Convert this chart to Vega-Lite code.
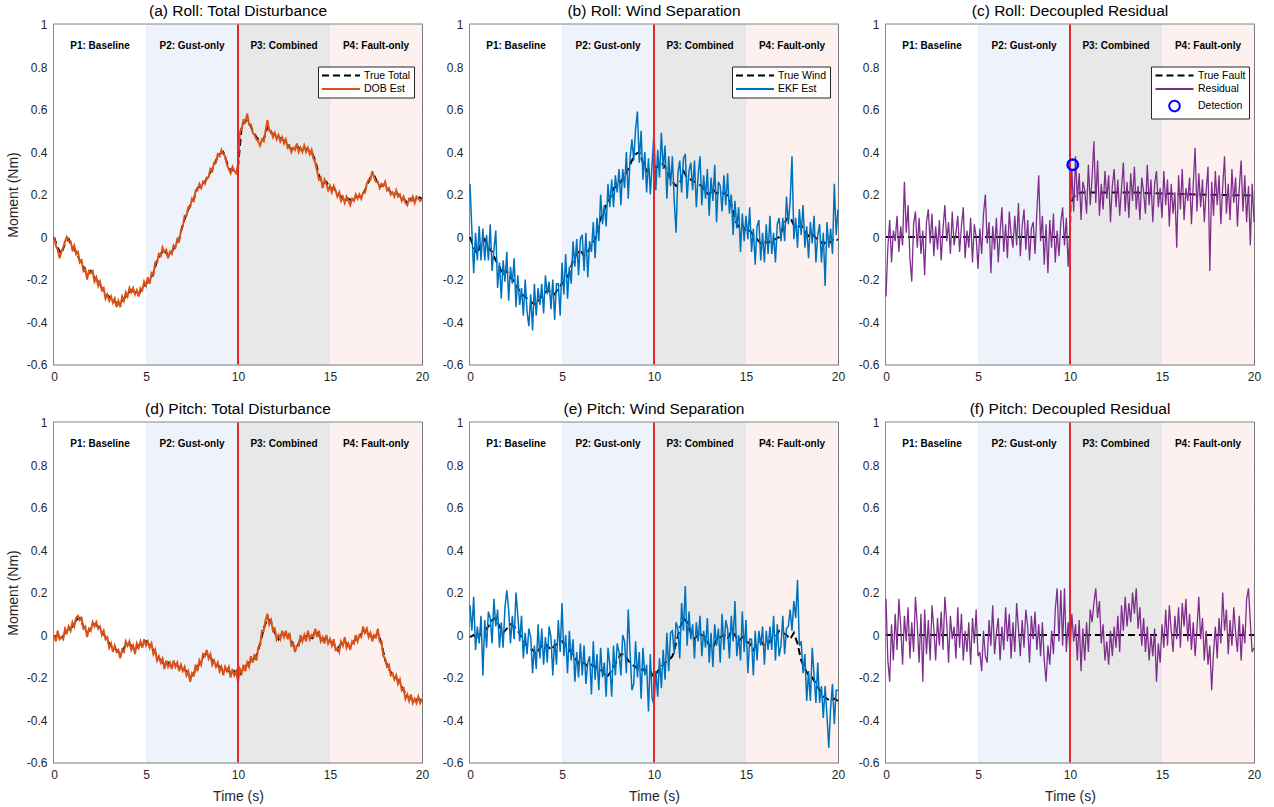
{
"$schema": "https://vega.github.io/schema/vega-lite/v6.json",
"padding": {"left": 5, "top": 2.5, "right": 5, "bottom": 2},
"background": "white",
"config": {
  "font": "Liberation Sans",
  "view": {"stroke": "#8a8a8a", "strokeWidth": 2},
  "axis": {"grid": true, "gridColor": "#000000", "gridOpacity": 0.12, "domain": false, "ticks": false, "labelFontSize": 12, "labelColor": "#262626", "titleFontSize": 14, "titleFontWeight": "normal", "titleColor": "#262626", "labelFlush": false, "labelOverlap": false, "zindex": 1},
  "title": {"fontSize": 15.5, "fontWeight": "normal", "color": "#000000", "offset": -1},
  "legend": {"labelFontSize": 10.5, "labelColor": "#000000", "strokeColor": "#262626", "fillColor": "#ffffff", "padding": 3, "rowPadding": 1.5, "symbolOffset": 14, "labelOffset": 17, "cornerRadius": 0, "symbolStrokeWidth": 2, "symbolType": "M-3.8,0H3.8", "symbolSize": 100}
},
"datasets": {
  "phases": [
    {"p": "P1", "x0": 0, "x1": 5, "mid": 2.5, "label": "P1: Baseline"},
    {"p": "P2", "x0": 5, "x1": 10, "mid": 7.5, "label": "P2: Gust-only"},
    {"p": "P3", "x0": 10, "x1": 15, "mid": 12.5, "label": "P3: Combined"},
    {"p": "P4", "x0": 15, "x1": 20, "mid": 17.5, "label": "P4: Fault-only"}
  ],
  "ev": [{"t": 10}],
  "det": [{"t": 10.15, "v": 0.34}],
  "flt": [{"t":0,"v":0},{"t":10,"v":0},{"t":10.02,"v":0.15},{"t":10.2,"v":0.19},{"t":10.6,"v":0.21},{"t":13,"v":0.21},{"t":15,"v":0.205},{"t":17,"v":0.2},{"t":20,"v":0.195}],
  "pflt": [{"t":0,"v":0},{"t":20,"v":0}],
  "truth": [
{"t":0,"rt":0,"rw":0,"pt":-0.01},{"t":0.2,"rt":-0.05,"rw":-0.05,"pt":0},{"t":0.4,"rt":-0.08,"rw":-0.08,"pt":-0.02},{"t":0.6,"rt":-0.03,"rw":-0.03,"pt":0.01},{"t":0.8,"rt":-0.01,"rw":-0.01,"pt":0.02},
{"t":1,"rt":-0.05,"rw":-0.05,"pt":0.04},{"t":1.2,"rt":-0.07,"rw":-0.07,"pt":0.07},{"t":1.4,"rt":-0.11,"rw":-0.11,"pt":0.08},{"t":1.6,"rt":-0.14,"rw":-0.14,"pt":0.04},{"t":1.8,"rt":-0.18,"rw":-0.18,"pt":0.01},
{"t":2,"rt":-0.16,"rw":-0.16,"pt":0.03},{"t":2.2,"rt":-0.19,"rw":-0.19,"pt":0.05},{"t":2.4,"rt":-0.21,"rw":-0.21,"pt":0.04},{"t":2.6,"rt":-0.24,"rw":-0.24,"pt":0.02},{"t":2.8,"rt":-0.27,"rw":-0.27,"pt":-0.01},
{"t":3,"rt":-0.28,"rw":-0.28,"pt":-0.04},{"t":3.2,"rt":-0.3,"rw":-0.3,"pt":-0.06},{"t":3.4,"rt":-0.31,"rw":-0.31,"pt":-0.07},{"t":3.6,"rt":-0.32,"rw":-0.32,"pt":-0.09},{"t":3.8,"rt":-0.29,"rw":-0.29,"pt":-0.06},
{"t":4,"rt":-0.27,"rw":-0.27,"pt":-0.04},{"t":4.2,"rt":-0.25,"rw":-0.25,"pt":-0.05},{"t":4.4,"rt":-0.26,"rw":-0.26,"pt":-0.07},{"t":4.6,"rt":-0.27,"rw":-0.27,"pt":-0.05},{"t":4.8,"rt":-0.24,"rw":-0.24,"pt":-0.04},
{"t":5,"rt":-0.22,"rw":-0.22,"pt":-0.03},{"t":5.2,"rt":-0.2,"rw":-0.2,"pt":-0.05},{"t":5.4,"rt":-0.17,"rw":-0.17,"pt":-0.07},{"t":5.6,"rt":-0.11,"rw":-0.11,"pt":-0.1},{"t":5.8,"rt":-0.08,"rw":-0.08,"pt":-0.12},
{"t":6,"rt":-0.06,"rw":-0.06,"pt":-0.14},{"t":6.2,"rt":-0.09,"rw":-0.09,"pt":-0.13},{"t":6.4,"rt":-0.07,"rw":-0.07,"pt":-0.15},{"t":6.6,"rt":-0.04,"rw":-0.04,"pt":-0.14},{"t":6.8,"rt":-0.01,"rw":-0.01,"pt":-0.15},
{"t":7,"rt":0.06,"rw":0.06,"pt":-0.16},{"t":7.2,"rt":0.11,"rw":0.11,"pt":-0.17},{"t":7.4,"rt":0.15,"rw":0.15,"pt":-0.2},{"t":7.6,"rt":0.18,"rw":0.18,"pt":-0.18},{"t":7.8,"rt":0.23,"rw":0.23,"pt":-0.15},
{"t":8,"rt":0.24,"rw":0.24,"pt":-0.12},{"t":8.2,"rt":0.26,"rw":0.26,"pt":-0.09},{"t":8.4,"rt":0.29,"rw":0.29,"pt":-0.09},{"t":8.6,"rt":0.32,"rw":0.32,"pt":-0.12},{"t":8.8,"rt":0.36,"rw":0.36,"pt":-0.14},
{"t":9,"rt":0.39,"rw":0.39,"pt":-0.15},{"t":9.2,"rt":0.4,"rw":0.4,"pt":-0.17},{"t":9.4,"rt":0.35,"rw":0.35,"pt":-0.16},{"t":9.6,"rt":0.31,"rw":0.31,"pt":-0.18},{"t":9.8,"rt":0.32,"rw":0.32,"pt":-0.17},
{"t":10,"rt":0.33,"rw":0.33,"pt":-0.2},{"t":10.2,"rt":0.52,"rw":0.33,"pt":-0.17},{"t":10.4,"rt":0.55,"rw":0.35,"pt":-0.15},{"t":10.6,"rt":0.54,"rw":0.33,"pt":-0.13},{"t":10.8,"rt":0.5,"rw":0.29,"pt":-0.12},
{"t":11,"rt":0.47,"rw":0.26,"pt":-0.1},{"t":11.2,"rt":0.45,"rw":0.24,"pt":-0.04},{"t":11.4,"rt":0.46,"rw":0.25,"pt":0.03},{"t":11.6,"rt":0.52,"rw":0.31,"pt":0.08},{"t":11.8,"rt":0.49,"rw":0.28,"pt":0.06},
{"t":12,"rt":0.48,"rw":0.27,"pt":0.01},{"t":12.2,"rt":0.47,"rw":0.26,"pt":-0.02},{"t":12.4,"rt":0.46,"rw":0.25,"pt":0.01},{"t":12.6,"rt":0.45,"rw":0.24,"pt":0},{"t":12.8,"rt":0.42,"rw":0.21,"pt":-0.01},
{"t":13,"rt":0.41,"rw":0.2,"pt":-0.05},{"t":13.2,"rt":0.43,"rw":0.225,"pt":-0.06},{"t":13.4,"rt":0.41,"rw":0.205,"pt":-0.02},{"t":13.6,"rt":0.42,"rw":0.215,"pt":-0.01},{"t":13.8,"rt":0.41,"rw":0.205,"pt":0},
{"t":14,"rt":0.4,"rw":0.195,"pt":-0.02},{"t":14.2,"rt":0.36,"rw":0.155,"pt":0.02},{"t":14.4,"rt":0.29,"rw":0.085,"pt":0},{"t":14.6,"rt":0.25,"rw":0.045,"pt":-0.03},{"t":14.8,"rt":0.26,"rw":0.055,"pt":-0.01},
{"t":15,"rt":0.23,"rw":0.025,"pt":-0.03},{"t":15.2,"rt":0.23,"rw":0.03,"pt":-0.04},{"t":15.4,"rt":0.21,"rw":0.01,"pt":-0.07},{"t":15.6,"rt":0.19,"rw":-0.01,"pt":-0.04},{"t":15.8,"rt":0.17,"rw":-0.03,"pt":-0.03},
{"t":16,"rt":0.18,"rw":-0.02,"pt":-0.05},{"t":16.2,"rt":0.17,"rw":-0.03,"pt":-0.04},{"t":16.4,"rt":0.19,"rw":-0.01,"pt":-0.02},{"t":16.6,"rt":0.19,"rw":-0.01,"pt":-0.01},{"t":16.8,"rt":0.2,"rw":0,"pt":0.02},
{"t":17,"rt":0.24,"rw":0.04,"pt":0.01},{"t":17.2,"rt":0.28,"rw":0.085,"pt":0},{"t":17.4,"rt":0.29,"rw":0.095,"pt":-0.02},{"t":17.6,"rt":0.25,"rw":0.055,"pt":0.01},{"t":17.8,"rt":0.24,"rw":0.045,"pt":-0.04},
{"t":18,"rt":0.25,"rw":0.055,"pt":-0.12},{"t":18.2,"rt":0.22,"rw":0.025,"pt":-0.16},{"t":18.4,"rt":0.2,"rw":0.005,"pt":-0.19},{"t":18.6,"rt":0.21,"rw":0.015,"pt":-0.2},{"t":18.8,"rt":0.19,"rw":-0.005,"pt":-0.23},
{"t":19,"rt":0.18,"rw":-0.015,"pt":-0.26},{"t":19.2,"rt":0.16,"rw":-0.035,"pt":-0.29},{"t":19.4,"rt":0.18,"rw":-0.015,"pt":-0.3},{"t":19.6,"rt":0.17,"rw":-0.025,"pt":-0.31},{"t":19.8,"rt":0.19,"rw":-0.005,"pt":-0.3},
{"t":20,"rt":0.18,"rw":-0.015,"pt":-0.31}
  ],
  "est": [
{"t":0,"rd":0,"re":0.25,"rr":-0.28,"pd":0,"pe":0.14,"pr":0.17},
{"t":0.1,"rd":-0.04,"re":0.03,"rr":-0.05,"pd":-0.03,"pe":0.02,"pr":-0.12},
{"t":0.2,"rd":-0.06,"re":-0.17,"rr":0.08,"pd":0.02,"pe":0.18,"pr":-0.22},
{"t":0.3,"rd":-0.1,"re":0.02,"rr":-0.12,"pd":-0.02,"pe":-0.07,"pr":0.05},
{"t":0.4,"rd":-0.07,"re":-0.11,"rr":0.03,"pd":-0.01,"pe":0.04,"pr":-0.12},
{"t":0.5,"rd":-0.05,"re":0.05,"rr":-0.02,"pd":-0.02,"pe":-0.04,"pr":0.1},
{"t":0.6,"rd":-0.02,"re":-0.11,"rr":0.1,"pd":0.03,"pe":0.09,"pr":-0.07},
{"t":0.7,"rd":0,"re":0.04,"rr":-0.07,"pd":0.01,"pe":-0.19,"pr":0.17},
{"t":0.8,"rd":-0.02,"re":-0.11,"rr":0.05,"pd":0.04,"pe":0.07,"pr":0.04},
{"t":0.9,"rd":-0.02,"re":0.01,"rr":-0.04,"pd":0.02,"pe":-0.06,"pr":-0.14},
{"t":1,"rd":-0.06,"re":-0.11,"rr":0.26,"pd":0.06,"pe":0.11,"pr":0.09},
{"t":1.1,"rd":-0.04,"re":0.06,"rr":0.02,"pd":0.04,"pe":0.08,"pr":-0.03},
{"t":1.2,"rd":-0.08,"re":-0.16,"rr":0.15,"pd":0.08,"pe":-0.04,"pr":0.13},
{"t":1.3,"rd":-0.07,"re":-0.06,"rr":-0.1,"pd":0.09,"pe":0.17,"pr":-0.11},
{"t":1.4,"rd":-0.12,"re":0.03,"rr":-0.21,"pd":0.07,"pe":0.04,"pr":0.06},
{"t":1.5,"rd":-0.11,"re":-0.24,"rr":0.06,"pd":0.08,"pe":0.12,"pr":-0.08},
{"t":1.6,"rd":-0.16,"re":-0.12,"rr":0.12,"pd":0.03,"pe":-0.06,"pr":0.18},
{"t":1.7,"rd":-0.15,"re":-0.29,"rr":-0.05,"pd":0.04,"pe":0.06,"pr":0.05},
{"t":1.8,"rd":-0.2,"re":-0.11,"rr":0.09,"pd":-0.01,"pe":-0.06,"pr":-0.13},
{"t":1.9,"rd":-0.16,"re":-0.21,"rr":-0.08,"pd":0.03,"pe":0.13,"pr":0.1},
{"t":2,"rd":-0.17,"re":-0.07,"rr":0.03,"pd":0.02,"pe":0.21,"pr":-0.22},
{"t":2.1,"rd":-0.16,"re":-0.3,"rr":-0.18,"pd":0.06,"pe":0.12,"pr":0.12},
{"t":2.2,"rd":-0.21,"re":-0.14,"rr":0.07,"pd":0.04,"pe":-0.04,"pr":-0.09},
{"t":2.3,"rd":-0.19,"re":-0.22,"rr":0.13,"pd":0.06,"pe":0.09,"pr":0.07},
{"t":2.4,"rd":-0.23,"re":-0.1,"rr":-0.03,"pd":0.03,"pe":-0.02,"pr":-0.12},
{"t":2.5,"rd":-0.21,"re":-0.33,"rr":0.11,"pd":0.04,"pe":0.2,"pr":0.14},
{"t":2.6,"rd":-0.25,"re":-0.18,"rr":-0.09,"pd":0,"pe":0.09,"pr":0.03},
{"t":2.7,"rd":-0.24,"re":-0.32,"rr":0.05,"pd":0.02,"pe":-0.03,"pr":-0.12},
{"t":2.8,"rd":-0.29,"re":-0.24,"rr":-0.06,"pd":-0.02,"pe":0.09,"pr":0.08},
{"t":2.9,"rd":-0.27,"re":-0.37,"rr":0.08,"pd":-0.01,"pe":-0.11,"pr":-0.05},
{"t":3,"rd":-0.3,"re":-0.2,"rr":-0.11,"pd":-0.06,"pe":0.01,"pr":0.11},
{"t":3.1,"rd":-0.28,"re":-0.35,"rr":0.04,"pd":-0.04,"pe":-0.09,"pr":-0.07},
{"t":3.2,"rd":-0.31,"re":-0.42,"rr":0.15,"pd":-0.08,"pe":0.03,"pr":0.18},
{"t":3.3,"rd":-0.29,"re":-0.27,"rr":-0.02,"pd":-0.05,"pe":-0.01,"pr":0.06},
{"t":3.4,"rd":-0.33,"re":-0.44,"rr":0.07,"pd":-0.08,"pe":-0.18,"pr":-0.13},
{"t":3.5,"rd":-0.3,"re":-0.22,"rr":-0.08,"pd":-0.07,"pe":-0.05,"pr":0.09},
{"t":3.6,"rd":-0.33,"re":-0.37,"rr":0.12,"pd":-0.11,"pe":-0.16,"pr":-0.02},
{"t":3.7,"rd":-0.28,"re":-0.24,"rr":-0.04,"pd":-0.07,"pe":0.05,"pr":0.04},
{"t":3.8,"rd":-0.3,"re":-0.32,"rr":0.02,"pd":-0.08,"pe":-0.11,"pr":-0.11},
{"t":3.9,"rd":-0.26,"re":-0.22,"rr":0.1,"pd":-0.03,"pe":0.03,"pr":0.13},
{"t":4,"rd":-0.28,"re":-0.36,"rr":-0.07,"pd":-0.05,"pe":-0.14,"pr":-0.06},
{"t":4.1,"rd":-0.24,"re":-0.18,"rr":0.05,"pd":-0.03,"pe":-0.01,"pr":0.1},
{"t":4.2,"rd":-0.26,"re":-0.27,"rr":0.14,"pd":-0.07,"pe":-0.13,"pr":-0.12},
{"t":4.3,"rd":-0.24,"re":-0.21,"rr":-0.1,"pd":-0.05,"pe":0.04,"pr":0.02},
{"t":4.4,"rd":-0.27,"re":-0.34,"rr":0.03,"pd":-0.09,"pe":-0.01,"pr":-0.08},
{"t":4.5,"rd":-0.25,"re":-0.2,"rr":-0.05,"pd":-0.04,"pe":-0.19,"pr":0.06},
{"t":4.6,"rd":-0.28,"re":-0.39,"rr":0.09,"pd":-0.06,"pe":-0.02,"pr":-0.14},
{"t":4.7,"rd":-0.24,"re":-0.22,"rr":-0.12,"pd":-0.03,"pe":-0.14,"pr":0.08},
{"t":4.8,"rd":-0.25,"re":-0.22,"rr":0.06,"pd":-0.06,"pe":0.07,"pr":-0.04},
{"t":4.9,"rd":-0.21,"re":-0.37,"rr":0,"pd":-0.02,"pe":-0.08,"pr":0.12},
{"t":5,"rd":-0.23,"re":-0.12,"rr":-0.15,"pd":-0.05,"pe":0.15,"pr":-0.1},
{"t":5.1,"rd":-0.19,"re":-0.27,"rr":0.04,"pd":-0.03,"pe":-0.1,"pr":-0.08},
{"t":5.2,"rd":-0.22,"re":-0.08,"rr":-0.08,"pd":-0.06,"pe":0,"pr":-0.17},
{"t":5.3,"rd":-0.17,"re":-0.29,"rr":0.11,"pd":-0.04,"pe":-0.18,"pr":0.02},
{"t":5.4,"rd":-0.18,"re":-0.14,"rr":0.2,"pd":-0.09,"pe":0.02,"pr":-0.1},
{"t":5.5,"rd":-0.12,"re":-0.22,"rr":-0.03,"pd":-0.07,"pe":-0.12,"pr":-0.13},
{"t":5.6,"rd":-0.12,"re":-0.02,"rr":0.07,"pd":-0.12,"pe":-0.02,"pr":0.07},
{"t":5.7,"rd":-0.08,"re":-0.14,"rr":-0.17,"pd":-0.1,"pe":-0.22,"pr":-0.05},
{"t":5.8,"rd":-0.09,"re":-0.01,"rr":0.05,"pd":-0.13,"pe":-0.08,"pr":0.14},
{"t":5.9,"rd":-0.05,"re":-0.18,"rr":-0.06,"pd":-0.11,"pe":-0.2,"pr":-0.09},
{"t":6,"rd":-0.07,"re":-0.01,"rr":0.09,"pd":-0.16,"pe":-0.04,"pr":0.01},
{"t":6.1,"rd":-0.06,"re":0.01,"rr":-0.12,"pd":-0.12,"pe":-0.19,"pr":0.08},
{"t":6.2,"rd":-0.1,"re":-0.16,"rr":0.02,"pd":-0.15,"pe":-0.05,"pr":-0.12},
{"t":6.3,"rd":-0.07,"re":0.02,"rr":0.14,"pd":-0.13,"pe":-0.23,"pr":0.04},
{"t":6.4,"rd":-0.08,"re":-0.19,"rr":-0.07,"pd":-0.16,"pe":-0.13,"pr":-0.07},
{"t":6.5,"rd":-0.04,"re":-0.02,"rr":0.06,"pd":-0.12,"pe":-0.1,"pr":0.13},
{"t":6.6,"rd":-0.05,"re":-0.07,"rr":-0.1,"pd":-0.15,"pe":-0.28,"pr":-0.03},
{"t":6.7,"rd":-0.01,"re":0.07,"rr":0.12,"pd":-0.13,"pe":-0.03,"pr":0.1},
{"t":6.8,"rd":-0.02,"re":-0.1,"rr":0.01,"pd":-0.17,"pe":-0.21,"pr":-0.11},
{"t":6.9,"rd":0.03,"re":0.09,"rr":-0.05,"pd":-0.14,"pe":-0.09,"pr":0.06},
{"t":7,"rd":0.05,"re":-0.02,"rr":0.1,"pd":-0.17,"pe":-0.26,"pr":-0.08},
{"t":7.1,"rd":0.1,"re":0.2,"rr":-0.04,"pd":-0.15,"pe":-0.06,"pr":0.15},
{"t":7.2,"rd":0.1,"re":0.06,"rr":0.16,"pd":-0.19,"pe":-0.2,"pr":0.03},
{"t":7.3,"rd":0.14,"re":0.15,"rr":-0.09,"pd":-0.17,"pe":-0.13,"pr":-0.1},
{"t":7.4,"rd":0.14,"re":0.05,"rr":0.05,"pd":-0.22,"pe":-0.29,"pr":0.07},
{"t":7.5,"rd":0.18,"re":0.25,"rr":0.13,"pd":-0.18,"pe":-0.06,"pr":-0.06},
{"t":7.6,"rd":0.17,"re":0.14,"rr":-0.06,"pd":-0.19,"pe":-0.14,"pr":0.12},
{"t":7.7,"rd":0.22,"re":0.27,"rr":0.08,"pd":-0.14,"pe":-0.29,"pr":0.04},
{"t":7.8,"rd":0.22,"re":0.14,"rr":-0.11,"pd":-0.17,"pe":-0.05,"pr":-0.13},
{"t":7.9,"rd":0.25,"re":0.29,"rr":0.04,"pd":-0.12,"pe":-0.19,"pr":0.09},
{"t":8,"rd":0.23,"re":0.21,"rr":0.07,"pd":-0.14,"pe":-0.04,"pr":-0.02},
{"t":8.1,"rd":0.26,"re":0.32,"rr":-0.08,"pd":-0.09,"pe":-0.08,"pr":0.11},
{"t":8.2,"rd":0.25,"re":0.15,"rr":0.12,"pd":-0.1,"pe":-0.19,"pr":-0.07},
{"t":8.3,"rd":0.28,"re":0.32,"rr":0.29,"pd":-0.07,"pe":0,"pr":0.05},
{"t":8.4,"rd":0.28,"re":0.23,"rr":-0.02,"pd":-0.11,"pe":-0.03,"pr":-0.1},
{"t":8.5,"rd":0.32,"re":0.4,"rr":0.1,"pd":-0.09,"pe":-0.18,"pr":0.06},
{"t":8.6,"rd":0.31,"re":0.18,"rr":-0.13,"pd":-0.14,"pe":0.12,"pr":-0.12},
{"t":8.7,"rd":0.35,"re":0.37,"rr":0.06,"pd":-0.12,"pe":-0.08,"pr":-0.22},
{"t":8.8,"rd":0.35,"re":0.46,"rr":-0.17,"pd":-0.15,"pe":-0.26,"pr":-0.05},
{"t":8.9,"rd":0.39,"re":0.36,"rr":0.08,"pd":-0.13,"pe":-0.23,"pr":-0.14},
{"t":9,"rd":0.38,"re":0.51,"rr":-0.05,"pd":-0.17,"pe":-0.03,"pr":0.02},
{"t":9.1,"rd":0.41,"re":0.59,"rr":0.11,"pd":-0.15,"pe":-0.2,"pr":-0.09},
{"t":9.2,"rd":0.39,"re":0.35,"rr":-0.12,"pd":-0.19,"pe":-0.08,"pr":0.12},
{"t":9.3,"rd":0.38,"re":0.5,"rr":0.03,"pd":-0.15,"pe":-0.3,"pr":0.22},
{"t":9.4,"rd":0.34,"re":0.27,"rr":-0.09,"pd":-0.17,"pe":-0.06,"pr":-0.03},
{"t":9.5,"rd":0.32,"re":0.4,"rr":0.07,"pd":-0.15,"pe":-0.19,"pr":0.21},
{"t":9.6,"rd":0.3,"re":0.21,"rr":0.14,"pd":-0.2,"pe":-0.14,"pr":-0.05},
{"t":9.7,"rd":0.33,"re":0.37,"rr":-0.04,"pd":-0.16,"pe":-0.36,"pr":0.22},
{"t":9.8,"rd":0.31,"re":0.2,"rr":0.09,"pd":-0.19,"pe":-0.09,"pr":-0.08},
{"t":9.9,"rd":0.3,"re":0.35,"rr":-0.14,"pd":-0.17,"pe":-0.3,"pr":0.06},
{"t":10,"rd":0.34,"re":0.49,"rr":0.05,"pd":-0.22,"pe":-0.33,"pr":-0.08},
{"t":10.1,"rd":0.49,"re":0.22,"rr":0.32,"pd":-0.16,"pe":-0.17,"pr":0.1},
{"t":10.2,"rd":0.51,"re":0.41,"rr":0.12,"pd":-0.18,"pe":-0.29,"pr":-0.03},
{"t":10.3,"rd":0.55,"re":0.28,"rr":0.38,"pd":-0.14,"pe":-0.11,"pr":0.05},
{"t":10.4,"rd":0.54,"re":0.49,"rr":0.17,"pd":-0.17,"pe":-0.25,"pr":-0.12},
{"t":10.5,"rd":0.58,"re":0.32,"rr":0.3,"pd":-0.13,"pe":-0.07,"pr":0.07},
{"t":10.6,"rd":0.53,"re":0.43,"rr":0.08,"pd":-0.15,"pe":-0.21,"pr":-0.17},
{"t":10.7,"rd":0.53,"re":0.18,"rr":0.26,"pd":-0.1,"pe":0.01,"pr":0.03},
{"t":10.8,"rd":0.49,"re":0.38,"rr":0.22,"pd":-0.13,"pe":-0.17,"pr":-0.12},
{"t":10.9,"rd":0.48,"re":0.24,"rr":0.11,"pd":-0.09,"pe":0.01,"pr":0.06},
{"t":11,"rd":0.46,"re":0.38,"rr":0.34,"pd":-0.12,"pe":0.02,"pr":-0.08},
{"t":11.1,"rd":0.45,"re":0.17,"rr":0.15,"pd":-0.06,"pe":-0.09,"pr":0.12},
{"t":11.2,"rd":0.43,"re":0.02,"rr":0.28,"pd":-0.05,"pe":0.06,"pr":0.06},
{"t":11.3,"rd":0.46,"re":0.3,"rr":0.45,"pd":0.02,"pe":0.03,"pr":0.15},
{"t":11.4,"rd":0.45,"re":0.36,"rr":0.16,"pd":0.02,"pe":-0.11,"pr":0.22},
{"t":11.5,"rd":0.5,"re":0.21,"rr":0.36,"pd":0.07,"pe":0.15,"pr":0.08},
{"t":11.6,"rd":0.55,"re":0.37,"rr":0.1,"pd":0.1,"pe":0.02,"pr":0.16},
{"t":11.7,"rd":0.5,"re":0.39,"rr":0.25,"pd":0.05,"pe":0.23,"pr":-0.04},
{"t":11.8,"rd":0.5,"re":0.18,"rr":0.13,"pd":0.07,"pe":-0.05,"pr":0.05},
{"t":11.9,"rd":0.47,"re":0.31,"rr":0.31,"pd":0.02,"pe":0.11,"pr":-0.12},
{"t":12,"rd":0.49,"re":0.35,"rr":0.18,"pd":0.03,"pe":-0.02,"pr":-0.03},
{"t":12.1,"rd":0.46,"re":0.22,"rr":0.29,"pd":-0.02,"pe":0.05,"pr":-0.14},
{"t":12.2,"rd":0.48,"re":0.36,"rr":0.07,"pd":0,"pe":-0.11,"pr":0.02},
{"t":12.3,"rd":0.45,"re":0.14,"rr":0.24,"pd":-0.02,"pe":0.06,"pr":-0.1},
{"t":12.4,"rd":0.47,"re":0.29,"rr":0.32,"pd":0.02,"pe":-0.03,"pr":0.04},
{"t":12.5,"rd":0.44,"re":0.38,"rr":0.14,"pd":-0.01,"pe":0.09,"pr":-0.06},
{"t":12.6,"rd":0.46,"re":0.15,"rr":0.27,"pd":0.02,"pe":-0.1,"pr":0.09},
{"t":12.7,"rd":0.42,"re":0.29,"rr":0.1,"pd":-0.02,"pe":0.02,"pr":-0.08},
{"t":12.8,"rd":0.43,"re":0.18,"rr":0.23,"pd":0.01,"pe":-0.06,"pr":0.14},
{"t":12.9,"rd":0.4,"re":0.32,"rr":0.35,"pd":-0.05,"pe":0.08,"pr":0.02},
{"t":13,"rd":0.42,"re":0.1,"rr":0.12,"pd":-0.04,"pe":-0.13,"pr":0.18},
{"t":13.1,"rd":0.41,"re":0.28,"rr":0.26,"pd":-0.08,"pe":0.01,"pr":0.04},
{"t":13.2,"rd":0.44,"re":0.17,"rr":0.09,"pd":-0.05,"pe":-0.15,"pr":0.15},
{"t":13.3,"rd":0.4,"re":0.34,"rr":0.3,"pd":-0.05,"pe":0.05,"pr":0.06},
{"t":13.4,"rd":0.42,"re":0.07,"rr":0.17,"pd":0,"pe":-0.05,"pr":0.2},
{"t":13.5,"rd":0.4,"re":0.26,"rr":0.33,"pd":-0.03,"pe":0.03,"pr":0.1},
{"t":13.6,"rd":0.43,"re":0.24,"rr":0.13,"pd":0,"pe":-0.13,"pr":0.22},
{"t":13.7,"rd":0.4,"re":0.12,"rr":0.24,"pd":-0.03,"pe":0.1,"pr":0.03},
{"t":13.8,"rd":0.42,"re":0.29,"rr":0.08,"pd":0.02,"pe":-0.07,"pr":0.13},
{"t":13.9,"rd":0.39,"re":0.15,"rr":0.28,"pd":-0.02,"pe":0.07,"pr":-0.05},
{"t":14,"rd":0.41,"re":0.3,"rr":0.21,"pd":0,"pe":0.03,"pr":0.08},
{"t":14.1,"rd":0.37,"re":0.11,"rr":0.11,"pd":-0.01,"pe":-0.11,"pr":-0.08},
{"t":14.2,"rd":0.35,"re":0.2,"rr":0.34,"pd":0.03,"pe":0.09,"pr":0.04},
{"t":14.3,"rd":0.31,"re":0.01,"rr":0.15,"pd":-0.01,"pe":-0.03,"pr":-0.12},
{"t":14.4,"rd":0.27,"re":0.17,"rr":0.27,"pd":0.02,"pe":0.16,"pr":0},
{"t":14.5,"rd":0.28,"re":0.04,"rr":0.07,"pd":-0.03,"pe":-0.1,"pr":-0.1},
{"t":14.6,"rd":0.23,"re":0.14,"rr":0.25,"pd":-0.01,"pe":0,"pr":0.03},
{"t":14.7,"rd":0.27,"re":-0.07,"rr":0.31,"pd":-0.04,"pe":-0.12,"pr":-0.22},
{"t":14.8,"rd":0.25,"re":0.11,"rr":0.14,"pd":0,"pe":0.11,"pr":-0.04},
{"t":14.9,"rd":0.22,"re":-0.02,"rr":0.23,"pd":-0.04,"pe":-0.08,"pr":-0.13},
{"t":15,"rd":0.24,"re":0.1,"rr":0.09,"pd":-0.02,"pe":0.07,"pr":0.05},
{"t":15.1,"rd":0.21,"re":-0.01,"rr":0.31,"pd":-0.05,"pe":-0.18,"pr":-0.06},
{"t":15.2,"rd":0.24,"re":0.14,"rr":0.15,"pd":-0.02,"pe":-0.02,"pr":0.12},
{"t":15.3,"rd":0.22,"re":-0.07,"rr":0.27,"pd":-0.07,"pe":-0.02,"pr":-0.05},
{"t":15.4,"rd":0.19,"re":0.04,"rr":0.05,"pd":-0.06,"pe":-0.19,"pr":0.14},
{"t":15.5,"rd":0.21,"re":-0.13,"rr":0.25,"pd":-0.08,"pe":0.02,"pr":0.02},
{"t":15.6,"rd":0.17,"re":0.05,"rr":0.11,"pd":-0.03,"pe":-0.12,"pr":-0.08},
{"t":15.7,"rd":0.19,"re":0.08,"rr":0.21,"pd":-0.05,"pe":0.02,"pr":0.09},
{"t":15.8,"rd":0.16,"re":-0.11,"rr":-0.05,"pd":-0.01,"pe":-0.05,"pr":-0.02},
{"t":15.9,"rd":0.19,"re":0.02,"rr":0.29,"pd":-0.06,"pe":0.04,"pr":0.13},
{"t":16,"rd":0.17,"re":-0.12,"rr":0.13,"pd":-0.04,"pe":-0.14,"pr":-0.06},
{"t":16.1,"rd":0.15,"re":0.06,"rr":0.32,"pd":-0.07,"pe":0.02,"pr":0.15},
{"t":16.2,"rd":0.18,"re":-0.08,"rr":0.08,"pd":-0.03,"pe":-0.07,"pr":0.04},
{"t":16.3,"rd":0.17,"re":0.1,"rr":0.23,"pd":-0.04,"pe":0.04,"pr":0.17},
{"t":16.4,"rd":0.2,"re":-0.08,"rr":0.17,"pd":0,"pe":-0.07,"pr":-0.03},
{"t":16.5,"rd":0.18,"re":0.02,"rr":0.28,"pd":-0.03,"pe":0.09,"pr":0.1},
{"t":16.6,"rd":0.2,"re":-0.12,"rr":0.06,"pd":0,"pe":-0.12,"pr":-0.07},
{"t":16.7,"rd":0.18,"re":0.06,"rr":0.25,"pd":-0.01,"pe":0.05,"pr":0.06},
{"t":16.8,"rd":0.21,"re":0.09,"rr":0.42,"pd":0.04,"pe":-0.1,"pr":-0.1},
{"t":16.9,"rd":0.21,"re":-0.02,"rr":0.12,"pd":0.01,"pe":-0.05,"pr":0.03},
{"t":17,"rd":0.25,"re":0.09,"rr":0.3,"pd":0.03,"pe":0.09,"pr":0.18},
{"t":17.1,"rd":0.27,"re":-0.02,"rr":0.14,"pd":-0.01,"pe":-0.09,"pr":-0.02},
{"t":17.2,"rd":0.27,"re":0.19,"rr":0.27,"pd":0.01,"pe":0.03,"pr":0.08},
{"t":17.3,"rd":0.31,"re":0.06,"rr":0.07,"pd":-0.03,"pe":0.04,"pr":-0.12},
{"t":17.4,"rd":0.28,"re":0.17,"rr":0.22,"pd":0,"pe":0.12,"pr":0.02},
{"t":17.5,"rd":0.26,"re":0.38,"rr":0.33,"pd":-0.01,"pe":0.02,"pr":-0.14},
{"t":17.6,"rd":0.26,"re":-0.01,"rr":-0.16,"pd":0.03,"pe":0.16,"pr":-0.05},
{"t":17.7,"rd":0.23,"re":0.09,"rr":0.26,"pd":-0.03,"pe":0.08,"pr":-0.26},
{"t":17.8,"rd":0.25,"re":-0.05,"rr":0.1,"pd":-0.03,"pe":0.26,"pr":-0.08},
{"t":17.9,"rd":0.24,"re":0.13,"rr":0.31,"pd":-0.1,"pe":-0.05,"pr":0.04},
{"t":18,"rd":0.26,"re":0.01,"rr":0.15,"pd":-0.11,"pe":-0.03,"pr":-0.11},
{"t":18.1,"rd":0.22,"re":0.15,"rr":0.29,"pd":-0.15,"pe":-0.18,"pr":0.08},
{"t":18.2,"rd":0.23,"re":-0.05,"rr":0.06,"pd":-0.14,"pe":-0.09,"pr":-0.04},
{"t":18.3,"rd":0.2,"re":0.05,"rr":0.24,"pd":-0.19,"pe":-0.31,"pr":0.2},
{"t":18.4,"rd":0.21,"re":-0.1,"rr":0.38,"pd":-0.18,"pe":-0.17,"pr":0.02},
{"t":18.5,"rd":0.19,"re":0.07,"rr":0.11,"pd":-0.21,"pe":-0.31,"pr":0.12},
{"t":18.6,"rd":0.22,"re":-0.03,"rr":0.25,"pd":-0.19,"pe":-0.06,"pr":-0.09},
{"t":18.7,"rd":0.19,"re":0.1,"rr":0.08,"pd":-0.23,"pe":-0.19,"pr":0.07},
{"t":18.8,"rd":0.2,"re":-0.12,"rr":0.32,"pd":-0.21,"pe":-0.32,"pr":-0.05},
{"t":18.9,"rd":0.17,"re":0.01,"rr":0.16,"pd":-0.26,"pe":-0.13,"pr":0.13},
{"t":19,"rd":0.19,"re":0.06,"rr":0.28,"pd":-0.25,"pe":-0.32,"pr":0.01},
{"t":19.1,"rd":0.16,"re":-0.12,"rr":0.05,"pd":-0.3,"pe":-0.24,"pr":-0.08},
{"t":19.2,"rd":0.15,"re":0.02,"rr":0.23,"pd":-0.28,"pe":-0.39,"pr":0.09},
{"t":19.3,"rd":0.18,"re":-0.23,"rr":0.36,"pd":-0.31,"pe":-0.24,"pr":-0.12},
{"t":19.4,"rd":0.17,"re":0.07,"rr":0.12,"pd":-0.28,"pe":-0.38,"pr":0.05},
{"t":19.5,"rd":0.19,"re":-0.05,"rr":0.29,"pd":-0.32,"pe":-0.53,"pr":-0.04},
{"t":19.6,"rd":0.16,"re":0.04,"rr":0.07,"pd":-0.3,"pe":-0.34,"pr":0.17},
{"t":19.7,"rd":0.19,"re":-0.08,"rr":0.24,"pd":-0.32,"pe":-0.23,"pr":0.22},
{"t":19.8,"rd":0.18,"re":0.25,"rr":-0.04,"pd":-0.29,"pe":-0.42,"pr":0.06},
{"t":19.9,"rd":0.17,"re":0.01,"rr":0.25,"pd":-0.32,"pe":-0.26,"pr":-0.08},
{"t":20,"rd":0.18,"re":0.13,"rr":0.07,"pd":-0.3,"pe":-0.26,"pr":-0.06}
  ]
},
"columns": 3,
"spacing": {"row": 58, "column": 48},
"bounds": "flush",
"resolve": {"scale": {"color": "independent", "strokeDash": "independent", "shape": "independent", "size": "independent"}},
"concat": [
 {"title": "(a) Roll: Total Disturbance", "width": 368, "height": 340,
  "layer": [
   {"data": {"name": "phases"}, "mark": {"type": "rect"},
    "encoding": {
     "x": {"field": "x0", "type": "quantitative", "scale": {"domain": [0, 20], "nice": false, "zero": false}, "axis": {"values": [0,5,10,15,20], "title": null, "labelExpr": "'' + datum.value", "labelPadding": 7}},
     "x2": {"field": "x1"},
     "y": {"datum": -0.6, "type": "quantitative", "scale": {"domain": [-0.6, 1], "nice": false, "zero": false}, "axis": {"values": [-0.6,-0.4,-0.2,0,0.2,0.4,0.6,0.8,1], "title": "Moment (Nm)", "labelExpr": "'' + datum.value", "labelPadding": 7, "titlePadding": 6}},
     "y2": {"datum": 1},
     "fill": {"field": "p", "type": "nominal", "scale": {"domain": ["P1","P2","P3","P4"], "range": ["#ffffff","#eef3fb","#e8e8e8","#fdf1ef"]}, "legend": null}}},
   {"data": {"name": "phases"}, "mark": {"type": "text", "fontWeight": "bold", "fontSize": 10, "color": "#000000"},
    "encoding": {"x": {"field": "mid", "type": "quantitative"}, "y": {"datum": 0.9, "type": "quantitative"}, "text": {"field": "label"}}},
   {"data": {"name": "truth"}, "mark": {"type": "line", "strokeWidth": 2},
    "encoding": {"x": {"field": "t", "type": "quantitative"}, "y": {"field": "rt", "type": "quantitative"},
     "color": {"datum": "True Total", "type": "nominal", "scale": {"domain": ["True Total", "DOB Est"], "range": ["#000000", "#D95319"]}, "legend": {"orient": "none", "legendX": 264, "legendY": 42, "title": null}},
     "strokeDash": {"datum": "True Total", "type": "nominal", "scale": {"domain": ["True Total", "DOB Est"], "range": [[7, 4], [1, 0]]}, "legend": {"orient": "none", "legendX": 264, "legendY": 42, "title": null}}}},
   {"data": {"name": "est"}, "mark": {"type": "line", "strokeWidth": 2},
    "encoding": {"x": {"field": "t", "type": "quantitative"}, "y": {"field": "rd", "type": "quantitative"}, "color": {"datum": "DOB Est", "type": "nominal"}, "strokeDash": {"datum": "DOB Est", "type": "nominal"}}},
   {"data": {"name": "ev"}, "mark": {"type": "rule", "color": "#e8252b", "strokeWidth": 2},
    "encoding": {"x": {"field": "t", "type": "quantitative"}}}
  ]},
 {"title": "(b) Roll: Wind Separation", "width": 368, "height": 340,
  "layer": [
   {"data": {"name": "phases"}, "mark": {"type": "rect"},
    "encoding": {
     "x": {"field": "x0", "type": "quantitative", "scale": {"domain": [0, 20], "nice": false, "zero": false}, "axis": {"values": [0,5,10,15,20], "title": null, "labelExpr": "'' + datum.value", "labelPadding": 7}},
     "x2": {"field": "x1"},
     "y": {"datum": -0.6, "type": "quantitative", "scale": {"domain": [-0.6, 1], "nice": false, "zero": false}, "axis": {"values": [-0.6,-0.4,-0.2,0,0.2,0.4,0.6,0.8,1], "title": null, "labelExpr": "'' + datum.value", "labelPadding": 7}},
     "y2": {"datum": 1},
     "fill": {"field": "p", "type": "nominal", "scale": {"domain": ["P1","P2","P3","P4"], "range": ["#ffffff","#eef3fb","#e8e8e8","#fdf1ef"]}, "legend": null}}},
   {"data": {"name": "phases"}, "mark": {"type": "text", "fontWeight": "bold", "fontSize": 10, "color": "#000000"},
    "encoding": {"x": {"field": "mid", "type": "quantitative"}, "y": {"datum": 0.9, "type": "quantitative"}, "text": {"field": "label"}}},
   {"data": {"name": "truth"}, "mark": {"type": "line", "strokeWidth": 2},
    "encoding": {"x": {"field": "t", "type": "quantitative"}, "y": {"field": "rw", "type": "quantitative"},
     "color": {"datum": "True Wind", "type": "nominal", "scale": {"domain": ["True Wind", "EKF Est"], "range": ["#000000", "#0072BD"]}, "legend": {"orient": "none", "legendX": 262, "legendY": 42, "title": null}},
     "strokeDash": {"datum": "True Wind", "type": "nominal", "scale": {"domain": ["True Wind", "EKF Est"], "range": [[7, 4], [1, 0]]}, "legend": {"orient": "none", "legendX": 262, "legendY": 42, "title": null}}}},
   {"data": {"name": "est"}, "mark": {"type": "line", "strokeWidth": 1.5},
    "encoding": {"x": {"field": "t", "type": "quantitative"}, "y": {"field": "re", "type": "quantitative"}, "color": {"datum": "EKF Est", "type": "nominal"}, "strokeDash": {"datum": "EKF Est", "type": "nominal"}}},
   {"data": {"name": "ev"}, "mark": {"type": "rule", "color": "#e8252b", "strokeWidth": 2},
    "encoding": {"x": {"field": "t", "type": "quantitative"}}}
  ]},
 {"title": "(c) Roll: Decoupled Residual", "width": 368, "height": 340,
  "layer": [
   {"data": {"name": "phases"}, "mark": {"type": "rect"},
    "encoding": {
     "x": {"field": "x0", "type": "quantitative", "scale": {"domain": [0, 20], "nice": false, "zero": false}, "axis": {"values": [0,5,10,15,20], "title": null, "labelExpr": "'' + datum.value", "labelPadding": 7}},
     "x2": {"field": "x1"},
     "y": {"datum": -0.6, "type": "quantitative", "scale": {"domain": [-0.6, 1], "nice": false, "zero": false}, "axis": {"values": [-0.6,-0.4,-0.2,0,0.2,0.4,0.6,0.8,1], "title": null, "labelExpr": "'' + datum.value", "labelPadding": 7}},
     "y2": {"datum": 1},
     "fill": {"field": "p", "type": "nominal", "scale": {"domain": ["P1","P2","P3","P4"], "range": ["#ffffff","#eef3fb","#e8e8e8","#fdf1ef"]}, "legend": null}}},
   {"data": {"name": "phases"}, "mark": {"type": "text", "fontWeight": "bold", "fontSize": 10, "color": "#000000"},
    "encoding": {"x": {"field": "mid", "type": "quantitative"}, "y": {"datum": 0.9, "type": "quantitative"}, "text": {"field": "label"}}},
   {"data": {"name": "flt"}, "mark": {"type": "line", "strokeWidth": 2},
    "encoding": {"x": {"field": "t", "type": "quantitative"}, "y": {"field": "v", "type": "quantitative"},
     "color": {"datum": "True Fault", "type": "nominal", "scale": {"domain": ["True Fault", "Residual", "Detection"], "range": ["#000000", "#7E2F8E", "#0000FF"]}, "legend": {"orient": "none", "legendX": 265, "legendY": 42, "title": null}},
     "strokeDash": {"datum": "True Fault", "type": "nominal", "scale": {"domain": ["True Fault", "Residual", "Detection"], "range": [[7, 4], [1, 0], [1, 0]]}, "legend": {"orient": "none", "legendX": 265, "legendY": 42, "title": null}}}},
   {"data": {"name": "est"}, "mark": {"type": "line", "strokeWidth": 1.3},
    "encoding": {"x": {"field": "t", "type": "quantitative"}, "y": {"field": "rr", "type": "quantitative"}, "color": {"datum": "Residual", "type": "nominal"}, "strokeDash": {"datum": "Residual", "type": "nominal"}}},
   {"data": {"name": "ev"}, "mark": {"type": "rule", "color": "#e8252b", "strokeWidth": 2},
    "encoding": {"x": {"field": "t", "type": "quantitative"}}},
   {"data": {"name": "det"}, "mark": {"type": "point", "filled": false, "strokeWidth": 2.5, "opacity": 1},
    "encoding": {"x": {"field": "t", "type": "quantitative"}, "y": {"field": "v", "type": "quantitative"}, "color": {"datum": "Detection", "type": "nominal"},
     "shape": {"datum": "Detection", "type": "nominal", "scale": {"domain": ["True Fault", "Residual", "Detection"], "range": ["M-3.8,0H3.8", "M-3.8,0H3.8", "circle"]}, "legend": {"orient": "none", "legendX": 265, "legendY": 42, "title": null}},
     "size": {"datum": "Detection", "type": "ordinal", "scale": {"type": "ordinal", "domain": ["True Fault", "Residual", "Detection"], "range": [100, 100, 110]}, "legend": {"orient": "none", "legendX": 265, "legendY": 42, "title": null}}}}
  ]},
 {"title": "(d) Pitch: Total Disturbance", "width": 368, "height": 340,
  "layer": [
   {"data": {"name": "phases"}, "mark": {"type": "rect"},
    "encoding": {
     "x": {"field": "x0", "type": "quantitative", "scale": {"domain": [0, 20], "nice": false, "zero": false}, "axis": {"values": [0,5,10,15,20], "title": "Time (s)", "labelExpr": "'' + datum.value", "labelPadding": 7, "titlePadding": 9}},
     "x2": {"field": "x1"},
     "y": {"datum": -0.6, "type": "quantitative", "scale": {"domain": [-0.6, 1], "nice": false, "zero": false}, "axis": {"values": [-0.6,-0.4,-0.2,0,0.2,0.4,0.6,0.8,1], "title": "Moment (Nm)", "labelExpr": "'' + datum.value", "labelPadding": 7, "titlePadding": 6}},
     "y2": {"datum": 1},
     "fill": {"field": "p", "type": "nominal", "scale": {"domain": ["P1","P2","P3","P4"], "range": ["#ffffff","#eef3fb","#e8e8e8","#fdf1ef"]}, "legend": null}}},
   {"data": {"name": "phases"}, "mark": {"type": "text", "fontWeight": "bold", "fontSize": 10, "color": "#000000"},
    "encoding": {"x": {"field": "mid", "type": "quantitative"}, "y": {"datum": 0.9, "type": "quantitative"}, "text": {"field": "label"}}},
   {"data": {"name": "truth"}, "mark": {"type": "line", "strokeDash": [7, 4], "strokeWidth": 2, "color": "#000000"},
    "encoding": {"x": {"field": "t", "type": "quantitative"}, "y": {"field": "pt", "type": "quantitative"}}},
   {"data": {"name": "est"}, "mark": {"type": "line", "strokeWidth": 2, "color": "#D95319"},
    "encoding": {"x": {"field": "t", "type": "quantitative"}, "y": {"field": "pd", "type": "quantitative"}}},
   {"data": {"name": "ev"}, "mark": {"type": "rule", "color": "#e8252b", "strokeWidth": 2},
    "encoding": {"x": {"field": "t", "type": "quantitative"}}}
  ]},
 {"title": "(e) Pitch: Wind Separation", "width": 368, "height": 340,
  "layer": [
   {"data": {"name": "phases"}, "mark": {"type": "rect"},
    "encoding": {
     "x": {"field": "x0", "type": "quantitative", "scale": {"domain": [0, 20], "nice": false, "zero": false}, "axis": {"values": [0,5,10,15,20], "title": "Time (s)", "labelExpr": "'' + datum.value", "labelPadding": 7, "titlePadding": 9}},
     "x2": {"field": "x1"},
     "y": {"datum": -0.6, "type": "quantitative", "scale": {"domain": [-0.6, 1], "nice": false, "zero": false}, "axis": {"values": [-0.6,-0.4,-0.2,0,0.2,0.4,0.6,0.8,1], "title": null, "labelExpr": "'' + datum.value", "labelPadding": 7}},
     "y2": {"datum": 1},
     "fill": {"field": "p", "type": "nominal", "scale": {"domain": ["P1","P2","P3","P4"], "range": ["#ffffff","#eef3fb","#e8e8e8","#fdf1ef"]}, "legend": null}}},
   {"data": {"name": "phases"}, "mark": {"type": "text", "fontWeight": "bold", "fontSize": 10, "color": "#000000"},
    "encoding": {"x": {"field": "mid", "type": "quantitative"}, "y": {"datum": 0.9, "type": "quantitative"}, "text": {"field": "label"}}},
   {"data": {"name": "truth"}, "mark": {"type": "line", "strokeDash": [7, 4], "strokeWidth": 2, "color": "#000000"},
    "encoding": {"x": {"field": "t", "type": "quantitative"}, "y": {"field": "pt", "type": "quantitative"}}},
   {"data": {"name": "est"}, "mark": {"type": "line", "strokeWidth": 1.5, "color": "#0072BD"},
    "encoding": {"x": {"field": "t", "type": "quantitative"}, "y": {"field": "pe", "type": "quantitative"}}},
   {"data": {"name": "ev"}, "mark": {"type": "rule", "color": "#e8252b", "strokeWidth": 2},
    "encoding": {"x": {"field": "t", "type": "quantitative"}}}
  ]},
 {"title": "(f) Pitch: Decoupled Residual", "width": 368, "height": 340,
  "layer": [
   {"data": {"name": "phases"}, "mark": {"type": "rect"},
    "encoding": {
     "x": {"field": "x0", "type": "quantitative", "scale": {"domain": [0, 20], "nice": false, "zero": false}, "axis": {"values": [0,5,10,15,20], "title": "Time (s)", "labelExpr": "'' + datum.value", "labelPadding": 7, "titlePadding": 9}},
     "x2": {"field": "x1"},
     "y": {"datum": -0.6, "type": "quantitative", "scale": {"domain": [-0.6, 1], "nice": false, "zero": false}, "axis": {"values": [-0.6,-0.4,-0.2,0,0.2,0.4,0.6,0.8,1], "title": null, "labelExpr": "'' + datum.value", "labelPadding": 7}},
     "y2": {"datum": 1},
     "fill": {"field": "p", "type": "nominal", "scale": {"domain": ["P1","P2","P3","P4"], "range": ["#ffffff","#eef3fb","#e8e8e8","#fdf1ef"]}, "legend": null}}},
   {"data": {"name": "phases"}, "mark": {"type": "text", "fontWeight": "bold", "fontSize": 10, "color": "#000000"},
    "encoding": {"x": {"field": "mid", "type": "quantitative"}, "y": {"datum": 0.9, "type": "quantitative"}, "text": {"field": "label"}}},
   {"data": {"name": "pflt"}, "mark": {"type": "line", "strokeDash": [7, 4], "strokeWidth": 2, "color": "#000000"},
    "encoding": {"x": {"field": "t", "type": "quantitative"}, "y": {"field": "v", "type": "quantitative"}}},
   {"data": {"name": "est"}, "mark": {"type": "line", "strokeWidth": 1.3, "color": "#7E2F8E"},
    "encoding": {"x": {"field": "t", "type": "quantitative"}, "y": {"field": "pr", "type": "quantitative"}}},
   {"data": {"name": "ev"}, "mark": {"type": "rule", "color": "#e8252b", "strokeWidth": 2},
    "encoding": {"x": {"field": "t", "type": "quantitative"}}}
  ]}
]
}
